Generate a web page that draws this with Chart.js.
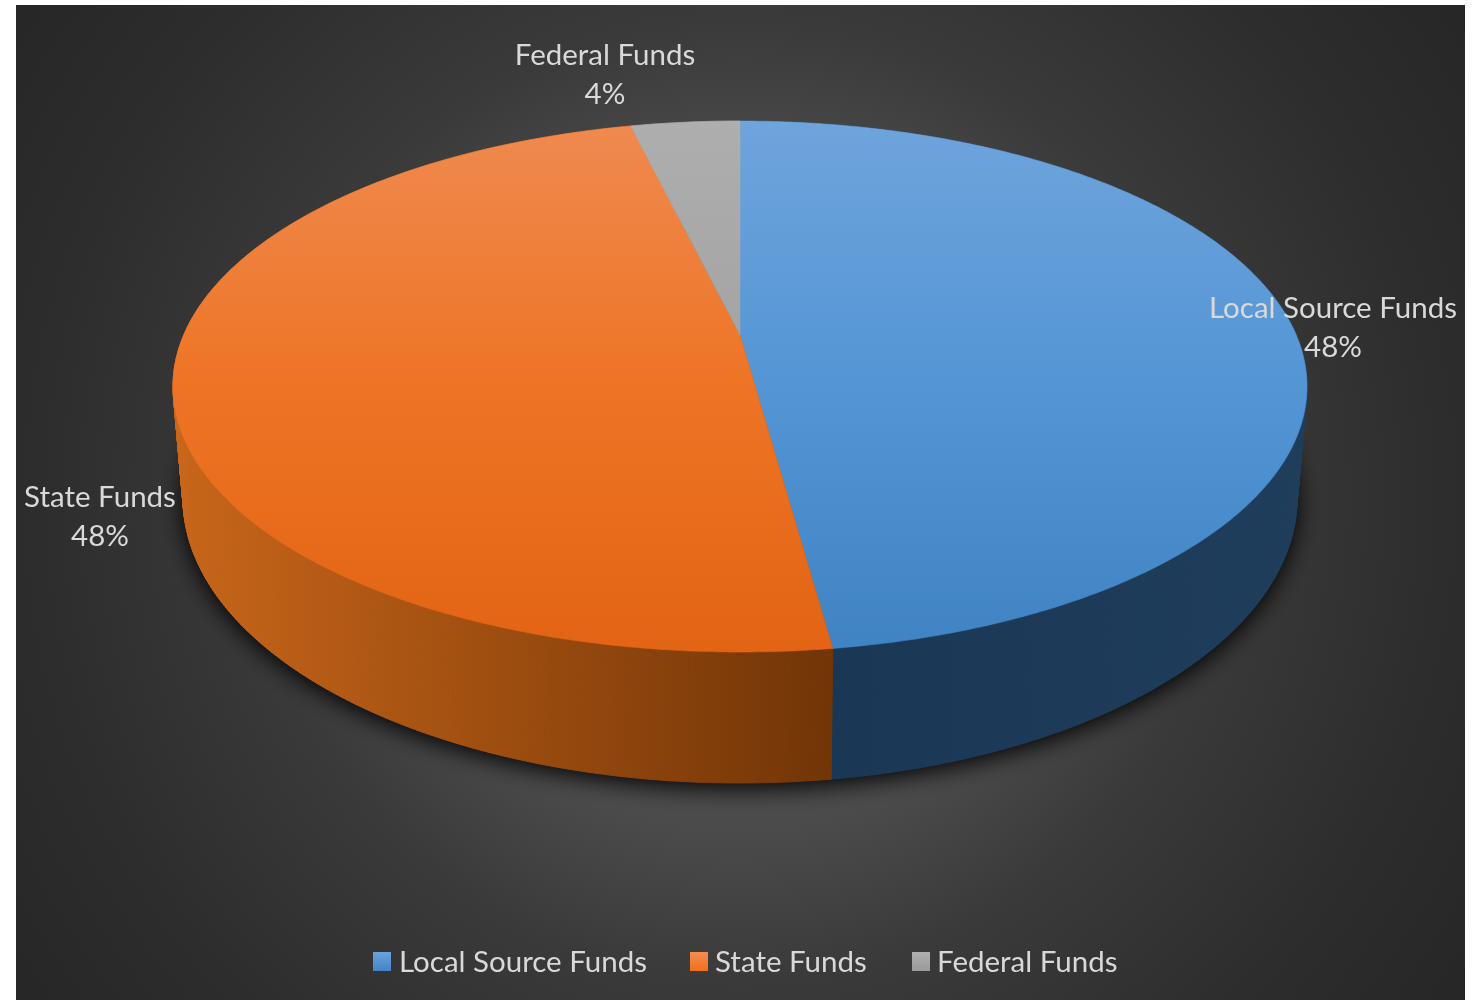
<!DOCTYPE html>
<html lang="en">

<head>
    <meta charset="UTF-8">
    <title>Funding Sources</title>
    <script src="https://cdn.jsdelivr.net/npm/chart.js"></script>
    <style>
        html, body { margin: 0; padding: 0; background: #fff; }
        canvas { display: block; }
    </style>
</head>

<body>
    <canvas id="fundsChart" width="1478" height="1000"></canvas>

    <script>
        const categories = ['Local Source Funds', 'State Funds', 'Federal Funds'];
        const shares = [47.85, 48.4, 3.75];

        const topColors = [
            ['#6fa4dc', '#5395d5', '#4083c3'],
            ['#ef8a50', '#ee7425', '#e26414'],
            ['#aeaeae', '#a2a2a2', '#959595']
        ];
        const wallColors = [
            ['#1f3e5c', '#1d3b59', '#1a3855'],
            ['#c8661a', '#9d4d10', '#723507'],
            ['#666666', '#666666', '#666666']
        ];
        const legendColors = [['#6ba3dd', '#4283c6'], ['#f58d50', '#ee6f1c'], ['#b0b0b0', '#9a9a9a']];

        // where the labels sit (centre x, first baseline)
        const labelSpots = [[1333, 318], [100, 507], [605, 65]];
        const legendSpots = [[373, 399], [690, 715], [912, 937]];

        const FONT = '29.5px Lato';
        const TEXT = '#d9d9d9';

        // top and bottom rim of the cylinder as seen in perspective
        const topRim = { cx: 740, cy: 386.5, rx: 567, ry: 265.5 };
        const bottomRim = { cx: 740, cy: 498, rx: 557, ry: 285 };
        const tilt = 0.194;

        function project(rim, angle) {
            let x = Math.cos(angle);
            let y = Math.sin(angle);
            let w = 1 - tilt * y;
            return {
                x: rim.cx + rim.rx * x * Math.sqrt(1 - tilt * tilt) / w,
                y: rim.cy + rim.ry * (y - tilt) / w
            };
        }

        function steps(start, end) {
            let list = [];
            let n = Math.max(2, Math.ceil((end - start) / 0.01));
            for (let i = 0; i <= n; i++) {
                list.push(start + (end - start) * i / n);
            }
            return list;
        }

        function threeStops(ctx, x0, y0, x1, y1, c) {
            let g = ctx.createLinearGradient(x0, y0, x1, y1);
            g.addColorStop(0, c[0]);
            g.addColorStop(0.5, c[1]);
            g.addColorStop(1, c[2]);
            return g;
        }

        function paintBackground(ctx) {
            let g = ctx.createRadialGradient(740, 500, 0, 740, 500, 890);
            g.addColorStop(0, '#565656');
            g.addColorStop(0.37, '#4b4b4b');
            g.addColorStop(0.54, '#3a3a3a');
            g.addColorStop(0.79, '#2d2d2d');
            g.addColorStop(1, '#262626');
            ctx.fillStyle = g;
            ctx.fillRect(16, 5, 1449, 995);
        }

        function paintShadow(ctx) {
            ctx.save();
            ctx.shadowColor = 'rgba(0,0,0,1)';
            ctx.shadowBlur = 24;
            ctx.shadowOffsetY = 5;
            ctx.fillStyle = '#111';
            ctx.beginPath();
            ctx.ellipse(bottomRim.cx, bottomRim.cy, bottomRim.rx, bottomRim.ry, 0, 0, Math.PI * 2);
            ctx.fill();
            ctx.restore();
        }

        function paintWall(ctx, arc, i) {
            let g = threeStops(ctx, i === 0 ? 1300 : 180, 0, 832, 0, wallColors[i]);
            ctx.fillStyle = g;
            ctx.strokeStyle = g;
            ctx.lineWidth = 1;
            let list = steps(arc.startAngle, arc.endAngle);
            for (let k = 0; k < list.length - 1; k++) {
                let a = project(topRim, list[k]);
                let b = project(topRim, list[k + 1]);
                let c = project(bottomRim, list[k + 1]);
                let d = project(bottomRim, list[k]);
                ctx.beginPath();
                ctx.moveTo(a.x, a.y);
                ctx.lineTo(b.x, b.y);
                ctx.lineTo(c.x, c.y);
                ctx.lineTo(d.x, d.y);
                ctx.closePath();
                ctx.fill();
                ctx.stroke();
            }
        }

        function paintTop(ctx, arc, i) {
            let g = threeStops(ctx, 0, topRim.cy - topRim.ry, 0, topRim.cy + topRim.ry, topColors[i]);
            let apex = { x: topRim.cx, y: topRim.cy - topRim.ry * tilt };
            ctx.beginPath();
            ctx.moveTo(apex.x, apex.y);
            steps(arc.startAngle, arc.endAngle).forEach(function(angle) {
                let p = project(topRim, angle);
                ctx.lineTo(p.x, p.y);
            });
            ctx.closePath();
            ctx.fillStyle = g;
            ctx.strokeStyle = g;
            ctx.lineWidth = 0.6;
            ctx.fill();
            ctx.stroke();
        }

        function paintLabels(ctx) {
            ctx.font = FONT;
            ctx.fillStyle = TEXT;
            ctx.textAlign = 'center';
            ctx.textBaseline = 'alphabetic';
            categories.forEach(function(name, i) {
                ctx.fillText(name, labelSpots[i][0], labelSpots[i][1]);
                ctx.fillText(Math.round(shares[i]) + '%', labelSpots[i][0], labelSpots[i][1] + 39);
            });
        }

        function paintLegend(ctx) {
            ctx.font = FONT;
            ctx.textAlign = 'left';
            ctx.textBaseline = 'alphabetic';
            categories.forEach(function(name, i) {
                let g = ctx.createLinearGradient(0, 952, 0, 971);
                g.addColorStop(0, legendColors[i][0]);
                g.addColorStop(1, legendColors[i][1]);
                ctx.fillStyle = g;
                ctx.fillRect(legendSpots[i][0], 952, 18, 19);
                ctx.fillStyle = TEXT;
                ctx.fillText(name, legendSpots[i][1], 972);
            });
        }

        // Chart.js computes the slice angles, the plugin paints them as a tilted cylinder
        const cylinderPie = {
            id: 'cylinderPie',
            beforeDraw: function(chart) {
                paintBackground(chart.ctx);
            },
            beforeDatasetsDraw: function(chart) {
                let ctx = chart.ctx;
                let arcs = chart.getDatasetMeta(0).data;
                paintShadow(ctx);
                arcs.forEach(function(arc, i) { paintWall(ctx, arc, i); });
                arcs.forEach(function(arc, i) { paintTop(ctx, arc, i); });
                return false;
            },
            afterDraw: function(chart) {
                paintLabels(chart.ctx);
                paintLegend(chart.ctx);
            }
        };

        new Chart(document.getElementById('fundsChart').getContext('2d'), {
            type: 'pie',
            data: {
                labels: categories,
                datasets: [{ data: shares }]
            },
            options: {
                responsive: false,
                animation: false,
                devicePixelRatio: 1,
                plugins: {
                    legend: { display: false },
                    tooltip: { enabled: false }
                }
            },
            plugins: [cylinderPie]
        });
    </script>
</body>

</html>
